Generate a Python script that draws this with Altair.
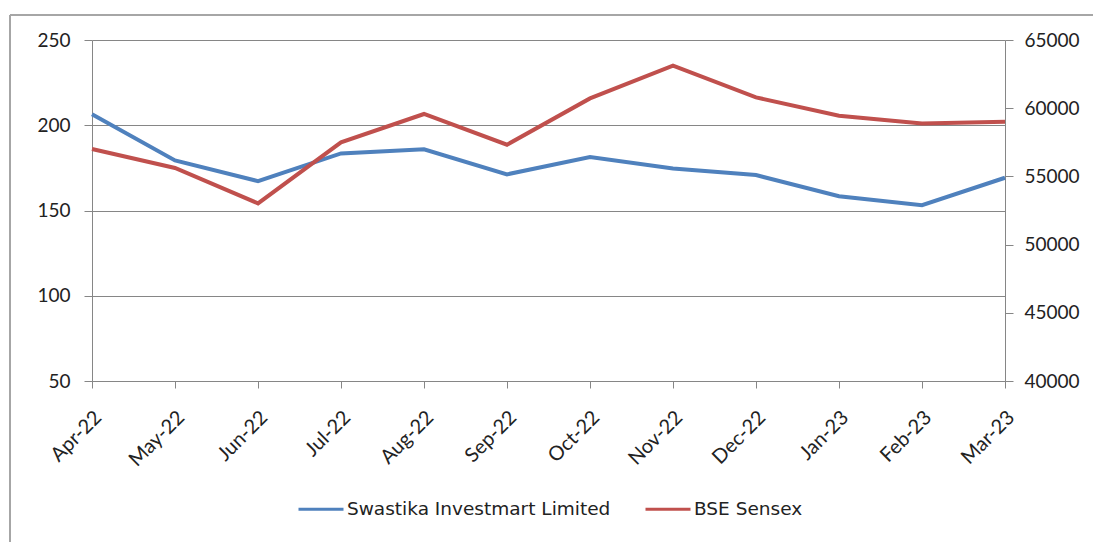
import altair as alt
import pandas as pd

months = ["Apr-22", "May-22", "Jun-22", "Jul-22", "Aug-22", "Sep-22",
          "Oct-22", "Nov-22", "Dec-22", "Jan-23", "Feb-23", "Mar-23"]
swastika = [206.5, 179.4, 167.2, 183.5, 185.9, 171.2, 181.4, 174.7, 170.8, 158.4, 153.1, 169.2]
sensex = [57010, 55618, 53023, 57494, 59576, 57325, 60719, 63116, 60793, 59451, 58887, 59011]
series_names = ["Swastika Investmart Limited", "BSE Sensex"]
left_ticks = [50, 100, 150, 200, 250]
right_ticks = [40000, 45000, 50000, 55000, 60000, 65000]

df_s = pd.DataFrame({"Month": months, "Value": swastika, "Series": series_names[0]})
df_b = pd.DataFrame({"Month": months, "Value": sensex, "Series": series_names[1]})

FONT = "Lato"
GRAY = "#868686"

color = alt.Color(
    "Series:N",
    scale=alt.Scale(domain=series_names, range=["#4F81BD", "#C0504D"]),
    legend=alt.Legend(
        title=None, orient="none", legendX=205, legendY=445, direction="horizontal",
        symbolType="stroke", symbolSize=2025, symbolStrokeWidth=3,
        labelFont="DejaVu Sans", labelFontSize=18.5, labelColor="#222222",
        labelOffset=2, columnPadding=28, labelLimit=400,
    ),
)

xenc = alt.X(
    "Month:N", sort=months, title=None,
    scale=alt.Scale(type="point", padding=0),
    axis=alt.Axis(labelAngle=-45, labelAlign="right", labelBaseline="middle",
                  labelPadding=26, labelOffset=6, tickSize=7, tickColor=GRAY, domainColor=GRAY,
                  labelFont=FONT, labelFontSize=20, labelColor="#222222", grid=False),
)

left = alt.Chart(df_s).mark_line(strokeWidth=4).encode(
    x=xenc,
    y=alt.Y("Value:Q", title=None,
            scale=alt.Scale(domain=[50, 250], nice=False, zero=False),
            axis=alt.Axis(orient="left", values=left_ticks, grid=True, gridColor=GRAY,
                          gridWidth=1, gridOpacity=1, tickSize=8, tickColor=GRAY,
                          domainColor=GRAY, labelPadding=14, labelFont=FONT,
                          labelFontSize=19, labelColor="#222222")),
    color=color,
)

right = alt.Chart(df_b).mark_line(strokeWidth=4).encode(
    x=xenc,
    y=alt.Y("Value:Q", title=None,
            scale=alt.Scale(domain=[40000, 65000], nice=False, zero=False),
            axis=alt.Axis(orient="right", values=right_ticks, format="d", grid=False,
                          tickSize=8, tickColor=GRAY, domainColor=GRAY, labelPadding=11,
                          labelFont=FONT, labelFontSize=19, labelColor="#222222")),
    color=color,
)

border_left = alt.Chart(alt.Data(values=[{}])).mark_rule(color="#a6a6a6", strokeWidth=2).encode(
    x=alt.value(-82), y=alt.value(-25), y2=alt.value(520)
)
border_top = alt.Chart(alt.Data(values=[{}])).mark_rule(color="#a6a6a6", strokeWidth=2).encode(
    x=alt.value(-82), x2=alt.value(1010), y=alt.value(-25)
)

chart = alt.layer(left, right, border_left, border_top).resolve_scale(
    y="independent"
).properties(
    width=913, height=341,
    autosize=alt.AutoSizeParams(type="none"),
    padding={"left": 84, "top": 32, "right": 88, "bottom": 161},
    background="white",
).configure_view(stroke="transparent")

chart.save("out.html", embed_options={"renderer": "svg", "actions": False})
